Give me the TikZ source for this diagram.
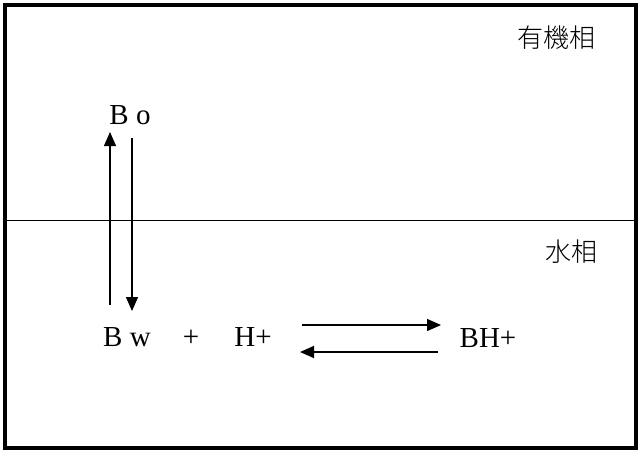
\documentclass[tikz,border=0pt]{standalone}
\usepackage{fontspec}
\setmainfont{Liberation Serif}
\newfontfamily\cjk{Noto Sans CJK JP Light}
\usetikzlibrary{arrows.meta}
\tikzset{
	lbl/.style={inner sep=0pt,anchor=base,font=\fontsize{29}{32}\selectfont},
	phase/.style={inner sep=0pt,font=\cjk\fontsize{26}{30}\selectfont},
	arr/.style={line width=1.3pt,-{Triangle[length=14pt,width=12pt]}}
}
\begin{document}
\begin{tikzpicture}[x=1pt,y=-1pt]
			\useasboundingbox (0,0) rectangle (644,455);
			\draw[line width=3.8pt] (5,5) rectangle (636,448);
			\draw[line width=1pt] (5,220) -- (636,220);
			\node[phase] (org) at (556,38) {有機相};
			\node[phase] (aq) at (571,252) {水相};
			\node[lbl] (Bo) at (130,124) {B o};
			\node[lbl] (Bw) at (127,346) {B w};
			\node[lbl] (plus) at (191,346) {+};
			\node[lbl] (H) at (253,346) {H+};
			\node[lbl] (BH) at (488,347) {BH+};
			\coordinate (upS) at (110,305); \coordinate (upE) at (110,132);
			\coordinate (dnS) at (132,138); \coordinate (dnE) at (132,311);
			\coordinate (fwS) at (302,325); \coordinate (fwE) at (441,325);
			\coordinate (bkS) at (438,352); \coordinate (bkE) at (300,352);
			\foreach \s/\e in {upS/upE,dnS/dnE,fwS/fwE,bkS/bkE}
				\draw[arr] (\s) -- (\e);
	\end{tikzpicture}
\end{document}
